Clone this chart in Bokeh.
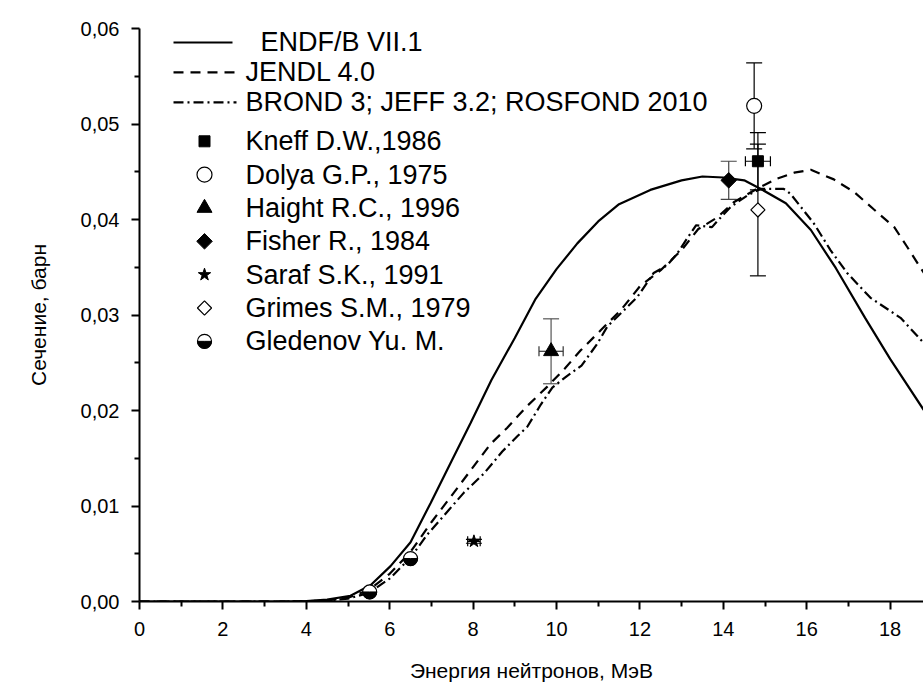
import math
from bokeh.plotting import figure
from bokeh.models import (ColumnDataSource, Range1d, FixedTicker,
                          CustomJSTickFormatter, Whisker, TeeHead)
from bokeh.core.properties import value
from bokeh.embed import file_html
from bokeh.resources import INLINE

# ---------------- data ----------------
x_ticks = [0, 2, 4, 6, 8, 10, 12, 14, 16, 18]
x_minor = [1, 3, 5, 7, 9, 11, 13, 15, 17, 19]
y_ticks = [0.0, 0.01, 0.02, 0.03, 0.04, 0.05, 0.06]
y_minor = [0.005, 0.015, 0.025, 0.035, 0.045, 0.055]

x_title = "Энергия нейтронов, МэВ"
y_title = "Сечение, барн"

# ENDF/B VII.1 (solid)
endf_e = [0, 3.5, 4.0, 4.5, 5.06, 5.54, 6.02, 6.5, 6.98, 7.46, 7.94, 8.44, 9.0, 9.5,
          10.0, 10.5, 11.0, 11.5, 12.25, 13.0, 13.5, 14.0, 14.5, 14.9, 15.5, 16.1,
          16.7, 17.4, 18.0, 18.8, 19.5]
endf_s = [0, 0, 0.00005, 0.0002, 0.0006, 0.0017, 0.0037, 0.0062, 0.0103, 0.0145,
          0.0187, 0.0232, 0.0276, 0.0317, 0.0348, 0.0375, 0.0398, 0.0416, 0.0431,
          0.0441, 0.0445, 0.0444, 0.0441, 0.0432, 0.0417, 0.0389, 0.0349, 0.0297,
          0.0254, 0.0201, 0.0160]

# JENDL 4.0 (dashed)
jendl_e = [0, 3.5, 4.0, 4.5, 5.0, 5.5, 6.0, 6.5, 7.0, 7.66, 8.42, 8.82, 9.28, 9.78,
           10.2, 10.58, 11.06, 11.54, 12.0, 12.5, 13.0, 13.4, 13.85, 14.25, 14.8,
           15.3, 15.7, 16.1, 16.65, 17.13, 17.6, 18.1, 18.4, 18.75, 19.5]
jendl_s = [0, 0, 0.00003, 0.0001, 0.0004, 0.0012, 0.0029, 0.0052, 0.0083, 0.0121,
           0.0165, 0.0182, 0.0204, 0.0225, 0.0244, 0.0263, 0.0284, 0.0305, 0.0330,
           0.0347, 0.0368, 0.0390, 0.0402, 0.0418, 0.0432, 0.0443, 0.0449, 0.0452,
           0.0442, 0.0429, 0.0411, 0.0392, 0.0372, 0.0348, 0.0300]

# BROND 3; JEFF 3.2; ROSFOND 2010 (dash-dot)
brond_e = [0, 3.5, 4.0, 4.5, 5.0, 5.5, 6.0, 6.5, 6.9, 7.22, 7.78, 8.26, 8.7, 9.06,
           9.3, 9.62, 9.9, 10.25, 10.6, 10.98, 11.22, 11.62, 11.94, 12.33, 12.65,
           12.89, 13.13, 13.35, 13.73, 13.85, 14.17, 14.57, 14.89, 15.45, 15.61,
           16.17, 16.57, 16.97, 17.53, 18.25, 18.78, 19.5]
brond_s = [0, 0, 0.00002, 0.0001, 0.0003, 0.0009, 0.0024, 0.0046, 0.0070, 0.0086,
           0.0114, 0.0134, 0.0157, 0.0173, 0.0183, 0.0206, 0.0224, 0.0236, 0.0247,
           0.0270, 0.0288, 0.0305, 0.0319, 0.0344, 0.0352, 0.0364, 0.0380, 0.0394,
           0.0392, 0.0398, 0.0413, 0.0425, 0.0432, 0.0432, 0.0427, 0.0396, 0.0368,
           0.0344, 0.0318, 0.0297, 0.0272, 0.0240]

# experimental points
kneff_e, kneff_s, kneff_ds, kneff_de = [14.83], [0.0461], [0.0030], [0.30]
dolya_e, dolya_s, dolya_ds = [14.74], [0.0519], [0.0045]
haight_e, haight_s, haight_ds, haight_de = [9.87], [0.0262], [0.0034], [0.29]
fisher_e, fisher_s, fisher_ds = [14.13], [0.0441], [0.0020]
saraf_e, saraf_s, saraf_ds, saraf_de = [8.02], [0.0063], [0.0002], [0.15]
grimes_e, grimes_s, grimes_ds = [14.83], [0.0410], [0.0069]
gled_e, gled_s = [5.52, 6.50], [0.0010, 0.0045]

legend_labels = ["ENDF/B VII.1", "JENDL 4.0", "BROND 3; JEFF 3.2; ROSFOND 2010",
                 "Kneff D.W.,1986", "Dolya G.P., 1975", "Haight R.C., 1996",
                 "Fisher R., 1984", "Saraf S.K., 1991", "Grimes S.M., 1979",
                 "Gledenov Yu. M."]

# ---------------- layout ----------------
W, H = 923, 684
FRAME_LEFT, FRAME_TOP, FRAME_BOTTOM = 139, 28, 602
PX_PER_MEV = 41.7
X_END = (W - FRAME_LEFT) / PX_PER_MEV
Y_END = 0.06
PX_PER_BARN = (FRAME_BOTTOM - FRAME_TOP) / Y_END

FONT = "Liberation Sans"
DASHED = "10 7"
DASHDOT = "10 4 2 4"

p = figure(width=W, height=H, output_backend="svg", toolbar_location=None,
           x_range=Range1d(0, X_END), y_range=Range1d(0, Y_END),
           min_border_left=FRAME_LEFT, min_border_right=0,
           min_border_top=FRAME_TOP, min_border_bottom=H - FRAME_BOTTOM)
p.outline_line_color = None
p.grid.visible = False
p.background_fill_color = "white"
p.border_fill_color = "white"

for ax in (p.xaxis[0], p.yaxis[0]):
    ax.axis_line_width = 2
    ax.major_tick_line_width = 2
    ax.minor_tick_line_width = 2
    ax.major_tick_out = 8
    ax.major_tick_in = 0
    ax.minor_tick_out = 5
    ax.minor_tick_in = 0
    ax.major_label_text_font = FONT
    ax.major_label_text_font_size = "20px"
    ax.major_label_text_color = "black"
    ax.axis_label_text_font = FONT
    ax.axis_label_text_font_size = "21px"
    ax.axis_label_text_font_style = "normal"
    ax.axis_label_text_color = "black"

p.xaxis.ticker = FixedTicker(ticks=x_ticks, minor_ticks=x_minor)
p.yaxis.ticker = FixedTicker(ticks=y_ticks, minor_ticks=y_minor)
p.yaxis.formatter = CustomJSTickFormatter(code="return tick.toFixed(2).replace('.', ',');")
p.xaxis.axis_label = x_title
p.yaxis.axis_label = y_title
p.xaxis.major_label_standoff = 12
p.yaxis.major_label_standoff = 12
p.xaxis.axis_label_standoff = 20
p.yaxis.axis_label_standoff = 28

# ---------------- evaluated curves ----------------
p.line(endf_e, endf_s, line_color="black", line_width=2.2)
p.line(jendl_e, jendl_s, line_color="black", line_width=2.2, line_dash=DASHED)
p.line(brond_e, brond_s, line_color="black", line_width=2.2, line_dash=DASHDOT)

# ---------------- error bars ----------------
def vbar_err(xs, ys, ds, color="black"):
    src = ColumnDataSource(dict(x=xs, lo=[y - d for y, d in zip(ys, ds)],
                                hi=[y + d for y, d in zip(ys, ds)]))
    w = Whisker(source=src, base="x", lower="lo", upper="hi", dimension="height",
                line_color=color, line_width=1.2, level="underlay",
                lower_head=TeeHead(size=16, line_color=color, line_width=1.2),
                upper_head=TeeHead(size=16, line_color=color, line_width=1.2))
    p.add_layout(w)

def hbar_err(xs, ys, ds, color="black"):
    src = ColumnDataSource(dict(y=ys, lo=[x - d for x, d in zip(xs, ds)],
                                hi=[x + d for x, d in zip(xs, ds)]))
    w = Whisker(source=src, base="y", lower="lo", upper="hi", dimension="width",
                line_color=color, line_width=1.2, level="underlay",
                lower_head=TeeHead(size=10, line_color=color, line_width=1.2),
                upper_head=TeeHead(size=10, line_color=color, line_width=1.2))
    p.add_layout(w)

vbar_err(dolya_e, dolya_s, dolya_ds)
vbar_err(grimes_e, grimes_s, grimes_ds)
vbar_err(kneff_e, kneff_s, kneff_ds)
hbar_err(kneff_e, kneff_s, kneff_de)
vbar_err(fisher_e, fisher_s, fisher_ds, "#444444")
vbar_err(haight_e, haight_s, haight_ds, "#555555")
hbar_err(haight_e, haight_s, haight_de, "#333333")
vbar_err(saraf_e, saraf_s, saraf_ds)
hbar_err(saraf_e, saraf_s, saraf_de)

# ---------------- experimental markers ----------------
def draw_markers(xs, ys, kind):
    if kind == "kneff":
        p.scatter(xs, ys, marker="square", size=11, fill_color="black", line_color="black")
    elif kind == "dolya":
        p.scatter(xs, ys, marker="circle", size=15, fill_color="white", line_color="black", line_width=1.2)
    elif kind == "haight":
        p.scatter(xs, ys, marker="triangle", size=15, fill_color="black", line_color="black")
    elif kind == "fisher":
        p.scatter(xs, ys, marker="square", size=11, angle=math.pi / 4,
                  fill_color="black", line_color="black")
    elif kind == "saraf":
        p.scatter(xs, ys, marker="star", size=13, fill_color="black", line_color="black")
    elif kind == "grimes":
        p.scatter(xs, ys, marker="square", size=10, angle=math.pi / 4,
                  fill_color="white", line_color="black", line_width=1.2)
    elif kind == "gled":
        p.scatter(xs, ys, marker="circle", size=14, fill_color="white", line_color="black", line_width=1.2)
        p.wedge(xs, ys, radius=7, radius_units="screen", start_angle=math.pi,
                end_angle=2 * math.pi, fill_color="black", line_color="black")

draw_markers(kneff_e, kneff_s, "kneff")
draw_markers(dolya_e, dolya_s, "dolya")
draw_markers(haight_e, haight_s, "haight")
draw_markers(fisher_e, fisher_s, "fisher")
draw_markers(saraf_e, saraf_s, "saraf")
draw_markers(grimes_e, grimes_s, "grimes")
draw_markers(gled_e, gled_s, "gled")

# ---------------- legend (built in the plot area, top-left) ----------------
def dx(px):
    return (px - FRAME_LEFT) / PX_PER_MEV

def dy(py):
    return (FRAME_BOTTOM - py) / PX_PER_BARN

row_py = [42, 72, 102, 141, 174.4, 207.8, 241.2, 274.6, 308, 341.4]
line_x0, line_x1, mark_x = 173, 236, 204
text_x = [260] + [245] * 9

p.line([dx(line_x0), dx(line_x1 - 4)], [dy(row_py[0])] * 2, line_color="black", line_width=2.2)
p.line([dx(line_x0), dx(line_x1)], [dy(row_py[1])] * 2, line_color="black", line_width=2.2, line_dash=DASHED)
p.line([dx(line_x0), dx(line_x1)], [dy(row_py[2])] * 2, line_color="black", line_width=2.2, line_dash=DASHDOT)
kinds = ["kneff", "dolya", "haight", "fisher", "saraf", "grimes", "gled"]
for k, py in zip(kinds, row_py[3:]):
    draw_markers([dx(mark_x)], [dy(py)], k)

p.text(x=[dx(t) for t in text_x], y=[dy(py) for py in row_py], text=legend_labels,
       text_font=value(FONT), text_font_size="27px", text_color="black",
       text_baseline="middle", text_align="left")

open("out.html", "w").write(file_html(p, INLINE))
